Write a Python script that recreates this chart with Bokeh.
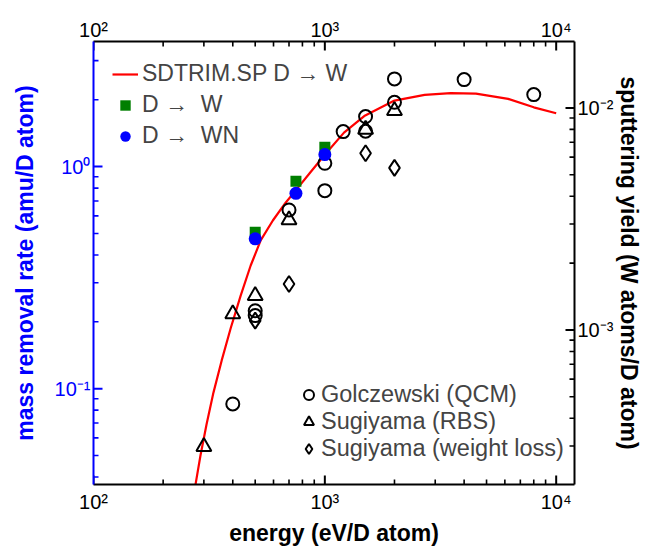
import math
from bokeh.plotting import figure
from bokeh.models import (LogAxis, Range1d, LogScale, FixedTicker, Legend, LegendItem)
from bokeh.embed import file_html
from bokeh.resources import INLINE

FONT = "Liberation Sans"
W_MASS = 183.84  # amu per W atom: converts sputtering yield to mass removal rate

# SDTRIM.SP D -> W (sputtering yield, W atoms / D atom)
curve_energy = [276, 290, 308, 330, 358, 392, 433, 478, 528, 596, 678, 750, 870,
                1010, 1210, 1480, 2000, 2700, 3500, 4500, 6200, 8000, 10000]
curve_yield = [2.01e-4, 2.72e-4, 3.75e-4, 5.22e-4, 7.27e-4, 1.02e-3, 1.43e-3, 1.95e-3,
               2.53e-3, 3.11e-3, 3.75e-3, 4.26e-3, 5.16e-3, 6.23e-3, 7.74e-3, 9.19e-3,
               1.079e-2, 1.144e-2, 1.166e-2, 1.160e-2, 1.098e-2, 1.006e-2, 9.46e-3]

# measured mass removal rate (amu / D atom)
dw_energy = [500, 750, 1000]
dw_rate = [0.506, 0.859, 1.221]
dwn_energy = [500, 750, 1000]
dwn_rate = [0.473, 0.758, 1.133]

# literature sputtering yields (W atoms / D atom)
golcz_energy = [400, 500, 500, 700, 1000, 1000, 1200, 1500, 1500, 2000, 2000, 4000, 8000]
golcz_yield = [4.64e-4, 1.22e-3, 1.16e-3, 3.47e-3, 5.63e-3, 4.24e-3, 7.82e-3, 9.14e-3,
               7.85e-3, 1.351e-2, 1.060e-2, 1.341e-2, 1.148e-2]
rbs_energy = [300, 400, 500, 700, 1500, 2000]
rbs_yield = [2.98e-4, 1.181e-3, 1.427e-3, 3.13e-3, 7.99e-3, 9.72e-3]
wl_energy = [500, 700, 1500, 2000]
wl_yield = [1.101e-3, 1.611e-3, 6.245e-3, 5.366e-3]

x_ticks = [100, 1000, 10000]
x_tick_labels = ["10²", "10³", "10⁴"]
left_ticks = [0.1, 1.0]
left_tick_labels = ["10⁻¹", "10⁰"]
right_ticks = [0.001, 0.01]
right_tick_labels = ["10⁻³", "10⁻²"]

x_min, x_max = 100, 12000
rate_min, rate_max = 0.037, 3.66
yield_min, yield_max = rate_min / W_MASS, rate_max / W_MASS


def minor(lo, hi):
    out = []
    d = 1e-6
    while d < 1e6:
        for k in range(2, 10):
            v = k * d
            if lo < v < hi:
                out.append(v)
        d *= 10
    return out


x_minor = minor(x_min, x_max)
left_minor = minor(rate_min, rate_max)
right_minor = minor(yield_min, yield_max)

p = figure(width=647, height=550, x_axis_type="log", y_axis_type="log",
           x_range=Range1d(x_min, x_max), y_range=Range1d(rate_min, rate_max),
           output_backend="svg", toolbar_location=None,
           min_border_left=93, min_border_right=73, min_border_top=41, min_border_bottom=66)
p.extra_y_ranges = {"yield": Range1d(yield_min, yield_max)}
p.extra_y_scales = {"yield": LogScale()}
p.xgrid.visible = False
p.ygrid.visible = False
p.outline_line_color = None


def style_axis(ax, color="black"):
    ax.axis_line_color = color
    ax.axis_line_width = 2
    ax.major_tick_in = 0
    ax.major_tick_out = 0
    ax.minor_tick_in = 0
    ax.minor_tick_out = 0
    ax.major_label_text_font = FONT
    ax.major_label_text_font_size = "20px"
    ax.major_label_text_color = color
    ax.axis_label_text_font = FONT
    ax.axis_label_text_font_size = "23px"
    ax.axis_label_text_font_style = "bold"
    ax.axis_label_text_color = color


xb = p.xaxis[0]
xb.ticker = FixedTicker(ticks=x_ticks, minor_ticks=x_minor)
xb.major_label_overrides = dict(zip(x_ticks, x_tick_labels))
xb.axis_label = "energy (eV/D atom)"
style_axis(xb)
xb.major_label_standoff = 6
xb.axis_label_standoff = 4

xtop = LogAxis(ticker=FixedTicker(ticks=x_ticks, minor_ticks=x_minor),
               major_label_overrides=dict(zip(x_ticks, x_tick_labels)))
style_axis(xtop)
xtop.major_label_standoff = 1
p.add_layout(xtop, "above")

yl = p.yaxis[0]
yl.ticker = FixedTicker(ticks=left_ticks, minor_ticks=left_minor)
yl.major_label_overrides = dict(zip(left_ticks, left_tick_labels))
yl.axis_label = "mass removal rate (amu/D atom)"
style_axis(yl, "#0000ff")
yl.major_label_standoff = 3
yl.axis_label_standoff = 14

yr = LogAxis(y_range_name="yield",
             ticker=FixedTicker(ticks=right_ticks, minor_ticks=right_minor),
             major_label_overrides=dict(zip(right_ticks, right_tick_labels)),
             axis_label="sputtering yield (W atoms/D atom)")
style_axis(yr)
yr.major_label_standoff = 3
yr.axis_label_standoff = 0
p.add_layout(yr, "right")


# inward-pointing tick marks: dash markers centred on the frame edges (clipped to the frame)
def ticks(xs, ys, angle, size, width, color, range_name="default"):
    p.scatter(xs, ys, marker="dash", angle=angle, size=size, line_color=color,
              line_width=width, y_range_name=range_name)


ticks(x_ticks, [rate_min] * len(x_ticks), math.pi / 2, 18, 2, "black")
ticks(x_minor, [rate_min] * len(x_minor), math.pi / 2, 10, 1.6, "black")
ticks(x_ticks, [rate_max] * len(x_ticks), math.pi / 2, 18, 2, "black")
ticks(x_minor, [rate_max] * len(x_minor), math.pi / 2, 10, 1.6, "black")
ticks([x_min] * len(left_ticks), left_ticks, 0, 18, 2, "#0000ff")
ticks([x_min] * len(left_minor), left_minor, 0, 10, 1.6, "#0000ff")
ticks([x_max] * len(right_ticks), right_ticks, 0, 18, 2, "black", "yield")
ticks([x_max] * len(right_minor), right_minor, 0, 10, 1.6, "black", "yield")

r_curve = p.line(curve_energy, curve_yield, y_range_name="yield", line_color="#ff0000", line_width=2.2)
r_golcz = p.scatter(golcz_energy, golcz_yield, y_range_name="yield", marker="circle", size=13,
                    fill_color=None, line_color="black", line_width=2)
r_rbs = p.scatter(rbs_energy, rbs_yield, y_range_name="yield", marker="triangle", size=15,
                  fill_color=None, line_color="black", line_width=2)
r_wl = p.scatter(wl_energy, wl_yield, y_range_name="yield", marker="diamond", size=16,
                 fill_color=None, line_color="black", line_width=2)
r_dw = p.scatter(dw_energy, dw_rate, marker="square", size=11, fill_color="#007f00", line_color=None)
r_dwn = p.scatter(dwn_energy, dwn_rate, marker="circle", size=13, fill_color="#0000ff", line_color=None)

leg1 = Legend(items=[LegendItem(label="SDTRIM.SP D → W", renderers=[r_curve]),
                     LegendItem(label="D →  W", renderers=[r_dw]),
                     LegendItem(label="D →  WN", renderers=[r_dwn])],
              location="top_left", margin=19, padding=0, spacing=4,
              glyph_width=26, glyph_height=26, label_standoff=4,
              label_text_font=FONT, label_text_font_size="23px",
              background_fill_alpha=0, border_line_alpha=0)
leg2 = Legend(items=[LegendItem(label="Golczewski (QCM)", renderers=[r_golcz]),
                     LegendItem(label="Sugiyama (RBS)", renderers=[r_rbs]),
                     LegendItem(label="Sugiyama (weight loss)", renderers=[r_wl])],
              location=(203, 22), margin=0, padding=0, spacing=-3,
              glyph_width=25, glyph_height=25, label_standoff=0,
              label_text_font=FONT, label_text_font_size="23.5px",
              background_fill_alpha=0, border_line_alpha=0)
p.add_layout(leg1)
p.add_layout(leg2)

open("out.html", "w").write(file_html(p, INLINE))
